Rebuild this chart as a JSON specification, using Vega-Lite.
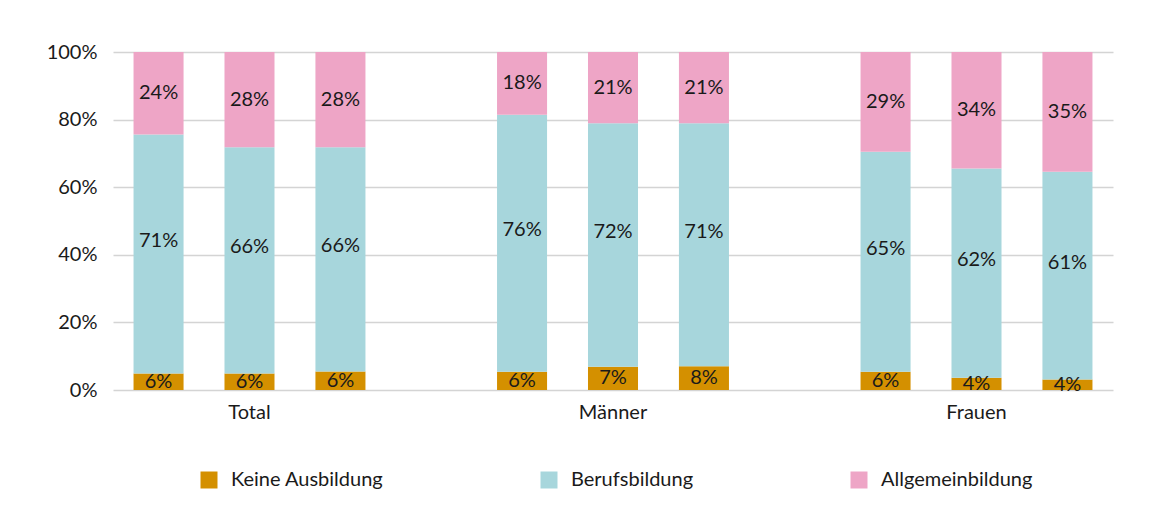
{
  "$schema": "https://vega.github.io/schema/vega-lite/v6.json",
  "width": 1000,
  "height": 338,
  "autosize": {"type": "none"},
  "padding": {"left": 113, "top": 52, "right": 38, "bottom": 139},
  "background": "white",
  "config": {
    "font": "Lato",
    "view": {"stroke": null},
    "axis": {"labelFont": "Lato", "labelColor": "#1a1a1a"},
    "legend": {"labelFont": "Lato", "labelColor": "#1a1a1a"}
  },
  "data": {
    "values": [
      {"group": "Total", "bar": 1, "cat": "Keine Ausbildung", "o": 1, "value": 4.9, "label": "6%"},
      {"group": "Total", "bar": 1, "cat": "Berufsbildung", "o": 2, "value": 70.7, "label": "71%"},
      {"group": "Total", "bar": 1, "cat": "Allgemeinbildung", "o": 3, "value": 24.4, "label": "24%"},
      {"group": "Total", "bar": 2, "cat": "Keine Ausbildung", "o": 1, "value": 4.9, "label": "6%"},
      {"group": "Total", "bar": 2, "cat": "Berufsbildung", "o": 2, "value": 66.9, "label": "66%"},
      {"group": "Total", "bar": 2, "cat": "Allgemeinbildung", "o": 3, "value": 28.2, "label": "28%"},
      {"group": "Total", "bar": 3, "cat": "Keine Ausbildung", "o": 1, "value": 5.5, "label": "6%"},
      {"group": "Total", "bar": 3, "cat": "Berufsbildung", "o": 2, "value": 66.3, "label": "66%"},
      {"group": "Total", "bar": 3, "cat": "Allgemeinbildung", "o": 3, "value": 28.2, "label": "28%"},
      {"group": "Männer", "bar": 1, "cat": "Keine Ausbildung", "o": 1, "value": 5.4, "label": "6%"},
      {"group": "Männer", "bar": 1, "cat": "Berufsbildung", "o": 2, "value": 76.0, "label": "76%"},
      {"group": "Männer", "bar": 1, "cat": "Allgemeinbildung", "o": 3, "value": 18.6, "label": "18%"},
      {"group": "Männer", "bar": 2, "cat": "Keine Ausbildung", "o": 1, "value": 6.9, "label": "7%"},
      {"group": "Männer", "bar": 2, "cat": "Berufsbildung", "o": 2, "value": 72.0, "label": "72%"},
      {"group": "Männer", "bar": 2, "cat": "Allgemeinbildung", "o": 3, "value": 21.1, "label": "21%"},
      {"group": "Männer", "bar": 3, "cat": "Keine Ausbildung", "o": 1, "value": 7.0, "label": "8%"},
      {"group": "Männer", "bar": 3, "cat": "Berufsbildung", "o": 2, "value": 71.9, "label": "71%"},
      {"group": "Männer", "bar": 3, "cat": "Allgemeinbildung", "o": 3, "value": 21.1, "label": "21%"},
      {"group": "Frauen", "bar": 1, "cat": "Keine Ausbildung", "o": 1, "value": 5.4, "label": "6%"},
      {"group": "Frauen", "bar": 1, "cat": "Berufsbildung", "o": 2, "value": 65.1, "label": "65%"},
      {"group": "Frauen", "bar": 1, "cat": "Allgemeinbildung", "o": 3, "value": 29.5, "label": "29%"},
      {"group": "Frauen", "bar": 2, "cat": "Keine Ausbildung", "o": 1, "value": 3.6, "label": "4%"},
      {"group": "Frauen", "bar": 2, "cat": "Berufsbildung", "o": 2, "value": 61.9, "label": "62%"},
      {"group": "Frauen", "bar": 2, "cat": "Allgemeinbildung", "o": 3, "value": 34.5, "label": "34%"},
      {"group": "Frauen", "bar": 3, "cat": "Keine Ausbildung", "o": 1, "value": 3.1, "label": "4%"},
      {"group": "Frauen", "bar": 3, "cat": "Berufsbildung", "o": 2, "value": 61.5, "label": "61%"},
      {"group": "Frauen", "bar": 3, "cat": "Allgemeinbildung", "o": 3, "value": 35.4, "label": "35%"}
    ]
  },
  "encoding": {
    "x": {
      "field": "group",
      "type": "nominal",
      "sort": ["Total", "Männer", "Frauen"],
      "scale": {"paddingInner": 0.362, "paddingOuter": 0.0565},
      "axis": {"title": null, "labelAngle": 0, "domain": false, "ticks": false, "labelFontSize": 20, "labelPadding": 12}
    },
    "xOffset": {"field": "bar", "type": "ordinal", "scale": {"paddingInner": 0.45, "paddingOuter": 0}}
  },
  "layer": [
    {
      "mark": {"type": "bar"},
      "encoding": {
        "y": {
          "field": "value",
          "type": "quantitative",
          "stack": "zero",
          "scale": {"domain": [0, 100], "nice": false},
          "axis": {
            "title": null,
            "values": [0, 20, 40, 60, 80, 100],
            "labelExpr": "datum.value + '%'",
            "domain": false,
            "ticks": false,
            "labelPadding": 16,
            "labelFontSize": 20,
            "gridColor": "#d4d4d4",
            "gridWidth": 1.5
          }
        },
        "color": {
          "field": "cat",
          "type": "nominal",
          "scale": {
            "domain": ["Keine Ausbildung", "Berufsbildung", "Allgemeinbildung"],
            "range": ["#D49000", "#A7D6DC", "#EEA5C6"]
          },
          "legend": {
            "title": null,
            "orient": "none",
            "direction": "horizontal",
            "legendX": 86,
            "legendY": 418,
            "padding": 0,
            "symbolType": "square",
            "symbolSize": 289,
            "symbolStrokeWidth": 0,
            "labelFontSize": 20,
            "labelOffset": 12,
            "columnPadding": 155
          }
        },
        "order": {"field": "o", "type": "quantitative"}
      }
    },
    {
      "transform": [
        {"stack": "value", "groupby": ["group", "bar"], "sort": [{"field": "o"}], "as": ["v0", "v1"]},
        {"calculate": "(datum.v0 + datum.v1) / 2", "as": "mid"},
        {"filter": "datum.cat != 'Berufsbildung'"}
      ],
      "mark": {"type": "text", "fontSize": 20, "color": "#1a1a1a", "baseline": "middle"},
      "encoding": {
        "y": {"field": "mid", "type": "quantitative"},
        "text": {"field": "label"}
      }
    },
    {
      "transform": [
        {"stack": "value", "groupby": ["group", "bar"], "sort": [{"field": "o"}], "as": ["v0", "v1"]},
        {"calculate": "(datum.v0 + datum.v1) / 2", "as": "mid"},
        {"filter": "datum.cat == 'Berufsbildung'"}
      ],
      "mark": {"type": "text", "fontSize": 20, "color": "#1a1a1a", "baseline": "middle", "dy": -13},
      "encoding": {
        "y": {"field": "mid", "type": "quantitative"},
        "text": {"field": "label"}
      }
    }
  ]
}
